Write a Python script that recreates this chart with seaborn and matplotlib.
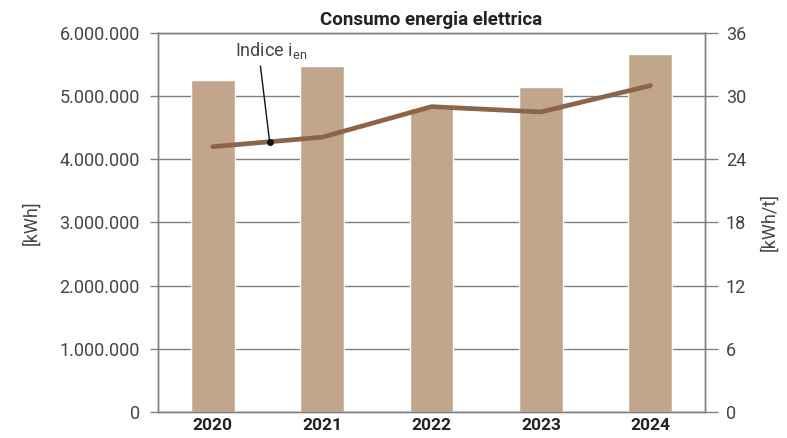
import seaborn as sns
import matplotlib.pyplot as plt
import numpy as np
import pandas as pd
from matplotlib.ticker import FuncFormatter, FixedLocator

# data
years = ['2020', '2021', '2022', '2023', '2024']
consumo_kwh = [5250000, 5480000, 4810000, 5145000, 5660000]
indice_kwh_t = [25.2, 26.1, 29.0, 28.5, 31.0]

df = pd.DataFrame({'Anno': years, 'kWh': consumo_kwh, 'Indice': indice_kwh_t})
df['pos'] = np.arange(len(df))

sns.set_style('white')
plt.rcParams['font.family'] = ['Roboto', 'DejaVu Sans']
plt.rcParams['mathtext.default'] = 'regular'

bar_color = '#c2a68c'
line_color = '#8c6549'
grid_color = '#808080'
text_color = '#454545'

fig = plt.figure(figsize=(7.87, 4.38), dpi=100)
ax = fig.add_axes([0.2008, 0.0594, 0.6950, 0.8653])

sns.barplot(data=df, x='Anno', y='kWh', color=bar_color, width=0.4,
            saturation=1, ax=ax, zorder=2)
ax.set_xlim(-0.5, len(years) - 0.5)
ax.set_ylim(0, 6000000)
ax.set_yticks(np.arange(0, 6000001, 1000000))
ax.yaxis.set_major_formatter(FuncFormatter(lambda v, p: f'{int(v):,}'.replace(',', '.')))
ax.grid(axis='y', color=grid_color, linewidth=1, zorder=0)
ax.set_axisbelow(True)
ax.set_xlabel('')
ax.set_ylabel('[kWh]', fontsize=13, color=text_color, labelpad=14)
ax.tick_params(axis='y', length=6, width=1, color=grid_color, direction='out',
               labelsize=13, labelcolor=text_color, pad=7)

# year labels centred, tick marks between categories
ax.tick_params(axis='x', which='major', length=0, labelsize=12.5, labelcolor='#222222', pad=4)
for lab in ax.get_xticklabels():
    lab.set_fontweight('bold')
ax.xaxis.set_minor_locator(FixedLocator(np.arange(-0.5, len(years), 1.0)))
ax.tick_params(axis='x', which='minor', length=6, width=1, color=grid_color, direction='out')

for s in ax.spines.values():
    s.set_color(grid_color)
    s.set_linewidth(1)

ax2 = ax.twinx()
sns.lineplot(data=df, x='pos', y='Indice', color=line_color, linewidth=3.4, ax=ax2,
             zorder=3)
ax2.set_ylim(0, 36)
ax2.set_yticks(np.arange(0, 37, 6))
ax2.set_xlim(-0.5, len(years) - 0.5)
ax2.set_ylabel('[kWh/t]', fontsize=13, color=text_color, labelpad=10)
ax2.tick_params(axis='y', length=9, width=1, color=grid_color, direction='out',
                labelsize=13, labelcolor=text_color, pad=6)
for s in ax2.spines.values():
    s.set_color(grid_color)
    s.set_linewidth(1)

# leader label for the index line
xa = 0.52
ya = indice_kwh_t[0] + (indice_kwh_t[1] - indice_kwh_t[0]) * xa
ax2.scatter([xa], [ya], s=16, color='#111111', zorder=5)
ax2.annotate('Indice i$_{en}$', xy=(xa, ya), xytext=(0.53, 33.3),
             ha='center', va='bottom', fontsize=13, color=text_color,
             arrowprops=dict(arrowstyle='-', color='#111111', lw=1,
                             relpos=(0.35, 0), shrinkA=1, shrinkB=0))

ax.set_title('Consumo energia elettrica', fontsize=13.5, fontweight='bold',
             color='#222222', pad=6)

fig.savefig('out.png', dpi=100)
